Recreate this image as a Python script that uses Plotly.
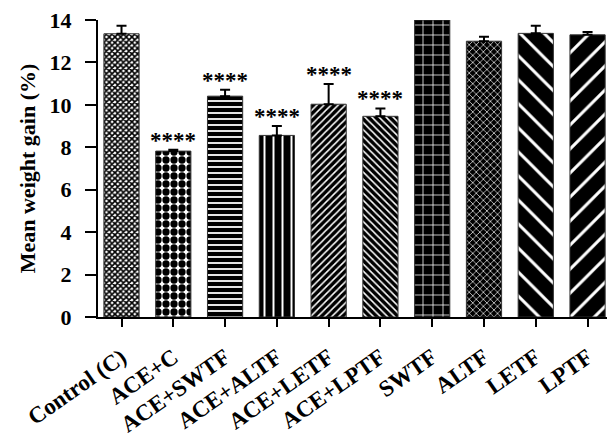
import plotly.graph_objects as go

categories = ["Control (C)", "ACE+C", "ACE+SWTF", "ACE+ALTF", "ACE+LETF",
              "ACE+LPTF", "SWTF", "ALTF", "LETF", "LPTF"]
means = [13.35, 7.82, 10.41, 8.56, 10.03, 9.46, 14.0, 13.0, 13.37, 13.3]
errors = [0.38, 0.06, 0.30, 0.44, 0.95, 0.37, 0.0, 0.21, 0.36, 0.13]
significance = ["", "****", "****", "****", "****", "****", "", "", "", ""]

shapes = ["x", ".", "-", "|", "/", "\\", "+", "x", "\\", "/"]
bgcols = ["white", "white", "black", "black", "black", "black", "black", "black", "black", "black"]
fgcols = ["black", "black", "white", "white", "white", "white", "white", "white", "white", "white"]
psizes = [4, 8, 6, 9, 5, 5, 10, 5, 17, 17]
psolid = [0.65, 0.65, 0.3, 0.22, 0.3, 0.3, 0.15, 0.25, 0.18, 0.18]

FONT = "Liberation Serif"

fig = go.Figure()
for i, c in enumerate(categories):
    fig.add_trace(go.Bar(
        x=[c], y=[means[i]],
        marker=dict(
            color=bgcols[i],
            line=dict(color="#333333", width=1),
            pattern=dict(shape=shapes[i], fgcolor=fgcols[i], bgcolor=bgcols[i],
                         size=psizes[i], solidity=psolid[i], fillmode="replace"),
        ),
        error_y=dict(type="data", symmetric=False, array=[errors[i]], arrayminus=[0],
                     color="black", thickness=2, width=5, visible=errors[i] > 0),
        showlegend=False,
        cliponaxis=False,
    ))

for i, c in enumerate(categories):
    if significance[i]:
        fig.add_annotation(x=c, y=means[i] + errors[i] + 0.45, text=significance[i],
                           showarrow=False, yanchor="middle",
                           font=dict(family=FONT, size=23, color="black", weight="bold"))

# page body has an 8px margin, so the figure is sized/offset to compensate
fig.update_layout(
    width=607, height=431,
    margin=dict(l=90, r=0, t=12, b=122, autoexpand=False),
    plot_bgcolor="white", paper_bgcolor="white",
    bargap=0.32,
    font=dict(family=FONT, color="black"),
)
fig.update_xaxes(
    type="category", range=[-0.454, 9.53], automargin=False,
    showline=True, linecolor="black", linewidth=2,
    ticks="outside", ticklen=8, tickwidth=2, tickcolor="black",
    tickangle=-35, ticklabelstandoff=8,
    tickfont=dict(family=FONT, size=23, color="black", weight="bold"),
    showgrid=False, zeroline=False,
)
fig.update_yaxes(
    range=[0, 14], tickvals=[0, 2, 4, 6, 8, 10, 12, 14], automargin=False,
    showline=True, linecolor="black", linewidth=2,
    ticks="outside", ticklen=11, tickwidth=2, tickcolor="black",
    tickfont=dict(family=FONT, size=22, color="black", weight="bold"),
    ticklabelstandoff=9, ticklabeloverflow="allow",
    title=dict(text="Mean weight gain (%)", font=dict(family=FONT, size=22, color="black", weight="bold"), standoff=8),
    showgrid=False, zeroline=False,
)

fig.write_html("out.html")
